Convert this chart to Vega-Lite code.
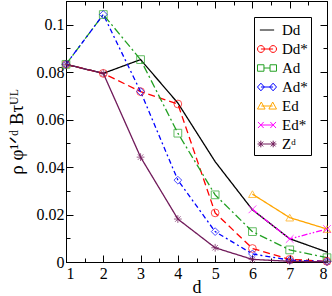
{
  "$schema": "https://vega.github.io/schema/vega-lite/v6.json",
  "width": 261,
  "height": 261,
  "autosize": "none",
  "padding": {"left": 66, "top": 1, "right": 5, "bottom": 34},
  "background": "white",
  "config": {
    "font": "Liberation Serif",
    "view": {"stroke": "black", "strokeWidth": 1},
    "axis": {"domainColor": "black", "tickColor": "black", "labelColor": "black", "titleColor": "black", "grid": false, "labelFont": "Liberation Serif", "titleFont": "Liberation Serif", "titleFontWeight": "normal"}
  },
  "data": {"values": [
    {"series": "Dd", "d": 1, "v": 0.0833}, {"series": "Dd", "d": 2, "v": 0.0795}, {"series": "Dd", "d": 3, "v": 0.0853}, {"series": "Dd", "d": 4, "v": 0.0670}, {"series": "Dd", "d": 5, "v": 0.0423}, {"series": "Dd", "d": 6, "v": 0.0220}, {"series": "Dd", "d": 7, "v": 0.0098}, {"series": "Dd", "d": 8, "v": 0.0042},
    {"series": "Dd*", "d": 1, "v": 0.0833}, {"series": "Dd*", "d": 2, "v": 0.0795}, {"series": "Dd*", "d": 3, "v": 0.0718}, {"series": "Dd*", "d": 4, "v": 0.0666}, {"series": "Dd*", "d": 5, "v": 0.0207}, {"series": "Dd*", "d": 6, "v": 0.0057}, {"series": "Dd*", "d": 7, "v": 0.0011}, {"series": "Dd*", "d": 8, "v": 0.0003},
    {"series": "Ad", "d": 1, "v": 0.0833}, {"series": "Ad", "d": 2, "v": 0.1043}, {"series": "Ad", "d": 3, "v": 0.0853}, {"series": "Ad", "d": 4, "v": 0.0543}, {"series": "Ad", "d": 5, "v": 0.0283}, {"series": "Ad", "d": 6, "v": 0.0128}, {"series": "Ad", "d": 7, "v": 0.0051}, {"series": "Ad", "d": 8, "v": 0.0018},
    {"series": "Ad*", "d": 1, "v": 0.0833}, {"series": "Ad*", "d": 2, "v": 0.1043}, {"series": "Ad*", "d": 3, "v": 0.0718}, {"series": "Ad*", "d": 4, "v": 0.0345}, {"series": "Ad*", "d": 5, "v": 0.0128}, {"series": "Ad*", "d": 6, "v": 0.0034}, {"series": "Ad*", "d": 7, "v": 0.0008}, {"series": "Ad*", "d": 8, "v": 0.0002},
    {"series": "Ed", "d": 6, "v": 0.0286}, {"series": "Ed", "d": 7, "v": 0.0187}, {"series": "Ed", "d": 8, "v": 0.0139},
    {"series": "Ed*", "d": 6, "v": 0.0222}, {"series": "Ed*", "d": 7, "v": 0.0097}, {"series": "Ed*", "d": 8, "v": 0.0139},
    {"series": "Zᵈ", "d": 1, "v": 0.0833}, {"series": "Zᵈ", "d": 2, "v": 0.0795}, {"series": "Zᵈ", "d": 3, "v": 0.0442}, {"series": "Zᵈ", "d": 4, "v": 0.0181}, {"series": "Zᵈ", "d": 5, "v": 0.0060}, {"series": "Zᵈ", "d": 6, "v": 0.0011}, {"series": "Zᵈ", "d": 7, "v": 0.0003}, {"series": "Zᵈ", "d": 8, "v": 0.0001}
  ]},
  "resolve": {"scale": {"x": "independent", "y": "independent", "color": "independent", "shape": "independent", "strokeDash": "independent"}},
  "layer": [
    {
      "mark": {"type": "point", "opacity": 0},
      "encoding": {
        "x": {"field": "d", "type": "quantitative", "scale": {"domain": [1, 8], "nice": false},
          "axis": {"orient": "bottom", "values": [1,1.5,2,2.5,3,3.5,4,4.5,5,5.5,6,6.5,7,7.5,8], "labels": false, "title": null,
            "tickSize": {"condition": {"test": "datum.value % 1 == 0", "value": -7}, "value": -4}}},
        "y": {"field": "v", "type": "quantitative", "scale": {"domain": [0, 0.11], "nice": false, "zero": false},
          "axis": {"orient": "left", "values": [0,0.01,0.02,0.03,0.04,0.05,0.06,0.07,0.08,0.09,0.1], "labels": false, "title": null,
            "tickSize": {"condition": {"test": "abs(datum.value*50 - round(datum.value*50)) < 0.01", "value": -7}, "value": -4}}}
      }
    },
    {
      "mark": {"type": "line", "strokeWidth": 1.3},
      "encoding": {
        "x": {"field": "d", "type": "quantitative", "scale": {"domain": [1, 8], "nice": false},
          "axis": {"orient": "bottom", "values": [1,2,3,4,5,6,7,8], "format": "d", "ticks": false, "domain": false,
            "labelPadding": 3, "labelFontSize": 16, "title": "d", "titleFontSize": 18, "titlePadding": -3}},
        "y": {"field": "v", "type": "quantitative", "scale": {"domain": [0, 0.11], "nice": false, "zero": false},
          "axis": {"orient": "left", "values": [0,0.02,0.04,0.06,0.08,0.1], "format": "~g", "ticks": false, "domain": false,
            "labelPadding": 2, "labelFontSize": 16, "title": "ρ φ¹ᐟᵈ Bτᵁᴸ", "titleFontSize": 19, "titlePadding": 10}},
        "color": {"field": "series", "type": "nominal",
          "scale": {"domain": ["Dd","Dd*","Ad","Ad*","Ed","Ed*","Zᵈ"], "range": ["#000000","#ff0000","#22a022","#0000ff","#ffa500","#ff00ff","#701a5a"]},
          "legend": null},
        "strokeDash": {"field": "series", "type": "nominal",
          "scale": {"domain": ["Dd","Dd*","Ad","Ad*","Ed","Ed*","Zᵈ"], "range": [[1,0],[7,4],[8,3,2,3],[5,3,2,3],[1,0],[6,2,1.5,2,1.5,2],[1,0]]},
          "legend": null}
      }
    },
    {
      "mark": {"type": "point", "filled": false, "size": 60, "strokeWidth": 1},
      "encoding": {
        "x": {"field": "d", "type": "quantitative", "scale": {"domain": [1, 8], "nice": false}, "axis": null},
        "y": {"field": "v", "type": "quantitative", "scale": {"domain": [0, 0.11], "nice": false, "zero": false}, "axis": null},
        "color": {"field": "series", "type": "nominal",
          "scale": {"domain": ["Dd","Dd*","Ad","Ad*","Ed","Ed*","Zᵈ"], "range": ["#000000","#ff0000","#22a022","#0000ff","#ffa500","#ff00ff","#701a5a"]},
          "legend": null},
        "shape": {"field": "series", "type": "nominal",
          "scale": {"domain": ["Dd","Dd*","Ad","Ad*","Ed","Ed*","Zᵈ"], "range": ["M0,0", "circle", "square", "diamond", "triangle-up", "M-1,-1L1,1M-1,1L1,-1", "M-1,0H1M0,-1V1M-0.7,-0.7L0.7,0.7M-0.7,0.7L0.7,-0.7"]},
          "legend": null}
      }
    },
    {
      "mark": {"type": "point", "opacity": 0},
      "encoding": {
        "x": {"field": "d", "type": "quantitative", "scale": {"domain": [1, 8], "nice": false},
          "axis": {"orient": "top", "values": [1,1.5,2,2.5,3,3.5,4,4.5,5,5.5,6,6.5,7,7.5,8], "labels": false, "title": null,
            "tickSize": {"condition": {"test": "datum.value % 1 == 0", "value": -7}, "value": -4}}},
        "y": {"field": "v", "type": "quantitative", "scale": {"domain": [0, 0.11], "nice": false, "zero": false},
          "axis": {"orient": "right", "values": [0,0.01,0.02,0.03,0.04,0.05,0.06,0.07,0.08,0.09,0.1], "labels": false, "title": null,
            "tickSize": {"condition": {"test": "abs(datum.value*50 - round(datum.value*50)) < 0.01", "value": -7}, "value": -4}}}
      }
    },
    {
      "mark": {"type": "point", "opacity": 0, "filled": false, "size": 361},
      "encoding": {
        "x": {"field": "d", "type": "quantitative", "scale": {"domain": [1, 8], "nice": false}, "axis": null},
        "y": {"field": "v", "type": "quantitative", "scale": {"domain": [0, 0.11], "nice": false, "zero": false}, "axis": null},
        "color": {"field": "series", "type": "nominal",
          "scale": {"domain": ["Dd","Dd*","Ad","Ad*","Ed","Ed*","Zᵈ"], "range": ["#000000","#ff0000","#22a022","#0000ff","#ffa500","#ff00ff","#701a5a"]},
          "legend": {"orient": "none", "legendX": 188, "legendY": 16, "title": null, "strokeColor": "black", "fillColor": "white", "padding": 3,
            "symbolSize": 361, "symbolStrokeWidth": 1, "labelFontSize": 15, "labelFont": "Liberation Serif", "labelOffset": 5, "rowPadding": 1, "symbolOpacity": 1}},
        "shape": {"field": "series", "type": "nominal",
          "scale": {"domain": ["Dd","Dd*","Ad","Ad*","Ed","Ed*","Zᵈ"], "range": ["M-0.75,0H0.75", "M-1,0A0.36,0.36 0 1,0 -0.28,0A0.36,0.36 0 1,0 -1,0M-0.64,0H0.64M0.28,0A0.36,0.36 0 1,0 1,0A0.36,0.36 0 1,0 0.28,0", "M-1,-0.34H-0.32V0.34H-1ZM0.32,-0.34H1V0.34H0.32ZM-0.32,0H0.32", "M-1,0L-0.64,-0.4L-0.28,0L-0.64,0.4ZM0.28,0L0.64,-0.4L1,0L0.64,0.4ZM-0.64,0H0.64", "M-1,0.32L-0.6,-0.42L-0.2,0.32ZM0.2,0.32L0.6,-0.42L1,0.32ZM-0.6,0H0.6", "M-0.95,-0.32L-0.35,0.32M-0.95,0.32L-0.35,-0.32M0.35,-0.32L0.95,0.32M0.35,0.32L0.95,-0.32M-0.65,0H0.65", "M-1,0H1M-0.65,-0.35V0.35M-0.9,-0.25L-0.4,0.25M-0.9,0.25L-0.4,-0.25M0.65,-0.35V0.35M0.4,-0.25L0.9,0.25M0.4,0.25L0.9,-0.25"]},
          "legend": {"orient": "none", "legendX": 188, "legendY": 16, "title": null, "strokeColor": "black", "fillColor": "white", "padding": 3,
            "symbolSize": 361, "symbolStrokeWidth": 1, "labelFontSize": 15, "labelFont": "Liberation Serif", "labelOffset": 5, "rowPadding": 1, "symbolOpacity": 1}}
      }
    }
  ]
}
